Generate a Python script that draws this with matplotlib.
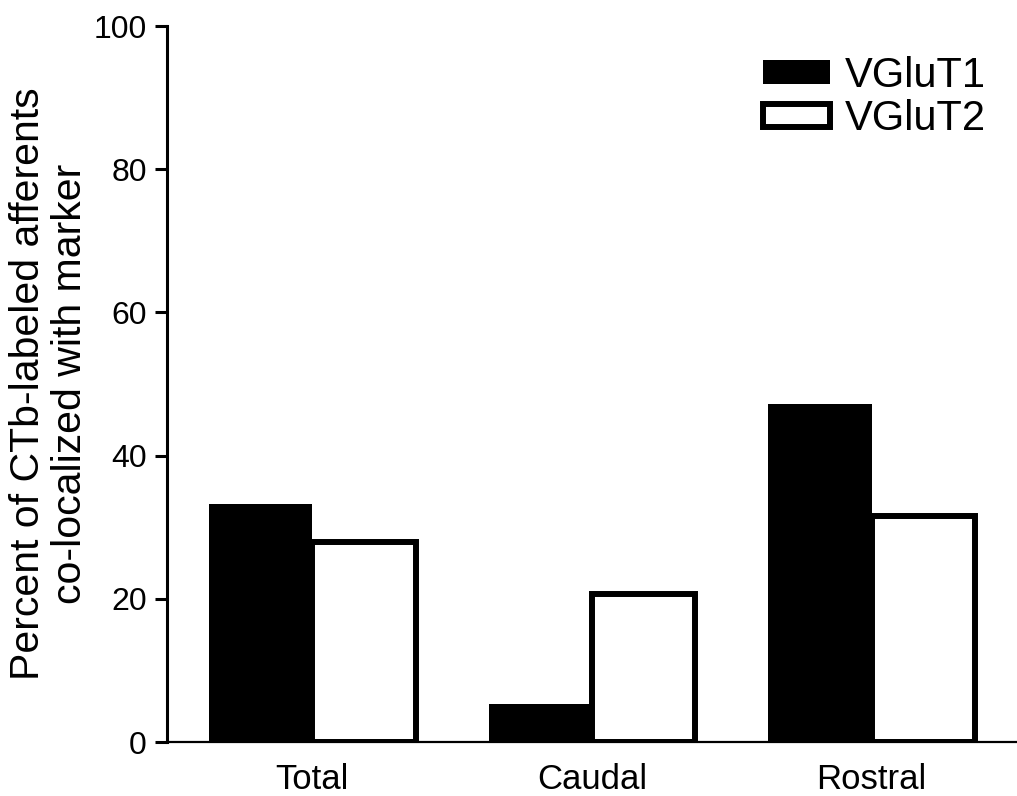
import numpy as np
import matplotlib
matplotlib.use('Agg')
import matplotlib.pyplot as plt

categories = ['Total', 'Caudal', 'Rostral']
vglut1 = [33.2, 5.3, 47.2]
vglut2 = [28.0, 20.7, 31.6]

plt.rcParams['font.family'] = ['Liberation Sans', 'DejaVu Sans']

fig = plt.figure(figsize=(10.17, 7.96), dpi=100)
ax = fig.add_axes([167 / 1017, 54 / 796, 850 / 1017, 716 / 796])

x = np.arange(len(categories))
w = 0.37
ax.bar(x - w / 2, vglut1, w, color='black', edgecolor='black', linewidth=0, label='VGluT1')
ax.bar(x + w / 2, vglut2, w, color='white', edgecolor='black', linewidth=4.3, label='VGluT2')

ax.set_xlim(-0.52, 2.52)
ax.set_ylim(0, 100)
ax.set_xticks(x)
ax.set_xticklabels(categories)
ax.set_yticks(np.arange(0, 101, 20))

for s in ['top', 'right']:
    ax.spines[s].set_visible(False)
ax.spines['left'].set_linewidth(2.2)
ax.spines['bottom'].set_linewidth(1.6)

ax.tick_params(axis='y', length=8.5, width=2.2, labelsize=23, pad=6)
ax.tick_params(axis='x', length=0, labelsize=25, pad=15)

ax.set_ylabel('Percent of CTb-labeled afferents\nco-localized with marker', fontsize=29.5,
              labelpad=3, linespacing=1.15)

ax.legend(loc='upper left', bbox_to_anchor=(0.701, 0.958), frameon=False, fontsize=30,
          handlelength=1.6, handleheight=0.5, handletextpad=0.36, labelspacing=0.08,
          borderpad=0, borderaxespad=0)

fig.savefig('out.png', dpi=100)
